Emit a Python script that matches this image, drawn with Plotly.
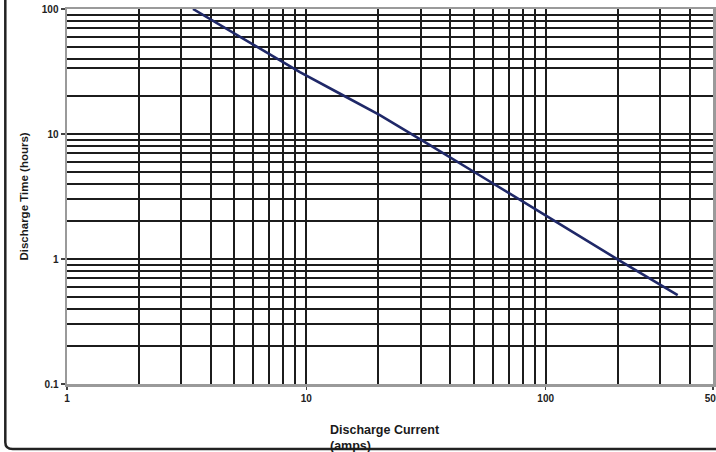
import plotly.graph_objects as go

# Data (log-log discharge curve)
current_amps = [3.36, 9.4, 20.2, 52.7, 202, 356]
time_hours = [100, 31.3, 14.2, 4.7, 0.98, 0.515]

x_tick_vals = [1, 10, 100, 500]
x_tick_text = ["1", "10", "100", "500"]
y_tick_vals = [0.1, 1, 10, 100]
y_tick_text = ["0.1", "1", "10", "100"]

x_grid = [1, 2, 3, 4, 5, 6, 7, 8, 9, 10, 20, 30, 40, 50, 60, 70, 80, 90, 100,
          200, 300, 400]
y_grid = [0.2, 0.3, 0.4, 0.5, 0.6, 0.7, 0.8, 0.9, 1, 2, 3, 4, 5, 6, 7, 8, 9, 10,
          20, 34, 40, 50, 60, 70, 80, 90, 100]

FONT = "Arial, Liberation Sans, sans-serif"
GRID = "#1c1c1c"
BORDER = "#9a9a9a"

fig = go.Figure()
fig.add_trace(go.Scatter(
    x=current_amps, y=time_hours, mode="lines",
    line=dict(color="#1f2868", width=2.6, shape="spline", smoothing=0.3),
    showlegend=False, hoverinfo="skip",
))

fig.update_layout(
    width=716, height=452,
    margin=dict(l=67, r=3, t=9, b=68, autoexpand=False),
    paper_bgcolor="white", plot_bgcolor="white",
    font=dict(family=FONT, color="#1a1a1a"),
    showlegend=False,
)

fig.update_xaxes(
    type="log", range=[0, 2.69897], automargin=False,
    tickmode="array", tickvals=x_tick_vals,
    ticktext=["<b>%s</b>" % t for t in x_tick_text],
    tickfont=dict(size=10, family=FONT, color="#222"),
    ticklabeloverflow="allow",
    ticks="outside", ticklen=3, tickwidth=1.5, tickcolor="#444",
    showgrid=False, zeroline=False,
    showline=True, linecolor=BORDER, linewidth=2.5, mirror=True,
    minor=dict(tickmode="array", tickvals=x_grid, showgrid=True,
               gridcolor=GRID, gridwidth=2, ticks=""),
)
fig.update_yaxes(
    type="log", range=[-1, 2], automargin=False,
    tickmode="array", tickvals=y_tick_vals,
    ticktext=["<b>%s</b>" % t for t in y_tick_text],
    tickfont=dict(size=10, family=FONT, color="#222"),
    ticklabeloverflow="allow",
    ticks="outside", ticklen=4, tickwidth=1.5, tickcolor="#444",
    showgrid=False, zeroline=False,
    showline=True, linecolor=BORDER, linewidth=2.5, mirror=True,
    minor=dict(tickmode="array", tickvals=y_grid, showgrid=True,
               gridcolor=GRID, gridwidth=2, ticks=""),
)

# Axis titles
fig.add_annotation(
    text="<b>Discharge Time (hours)</b>", xref="paper", yref="paper",
    x=-0.068, y=0.5, textangle=-90, showarrow=False,
    font=dict(size=11.5, family=FONT, color="#1a1a1a"),
    xanchor="center", yanchor="middle",
)
fig.add_annotation(
    text="<b>Discharge Current</b><br><b>(amps)</b>", xref="paper", yref="paper",
    x=0.404, y=-0.098, showarrow=False, align="left",
    font=dict(size=12.5, family=FONT, color="#1a1a1a"),
    xanchor="left", yanchor="top",
)

# Outer rounded frame (left and bottom edges visible)
fig.add_shape(
    type="path", xref="paper", yref="paper",
    path="M -0.0955 1.05 L -0.0955 -0.155 Q -0.0955 -0.173 -0.084 -0.173 L 1.01 -0.173",
    line=dict(color="#222", width=2.5),
)

fig.write_html(
    "out.html",
    config={"displayModeBar": False, "staticPlot": True},
    post_script="document.body.style.margin='0px';document.body.style.overflow='hidden';",
)
